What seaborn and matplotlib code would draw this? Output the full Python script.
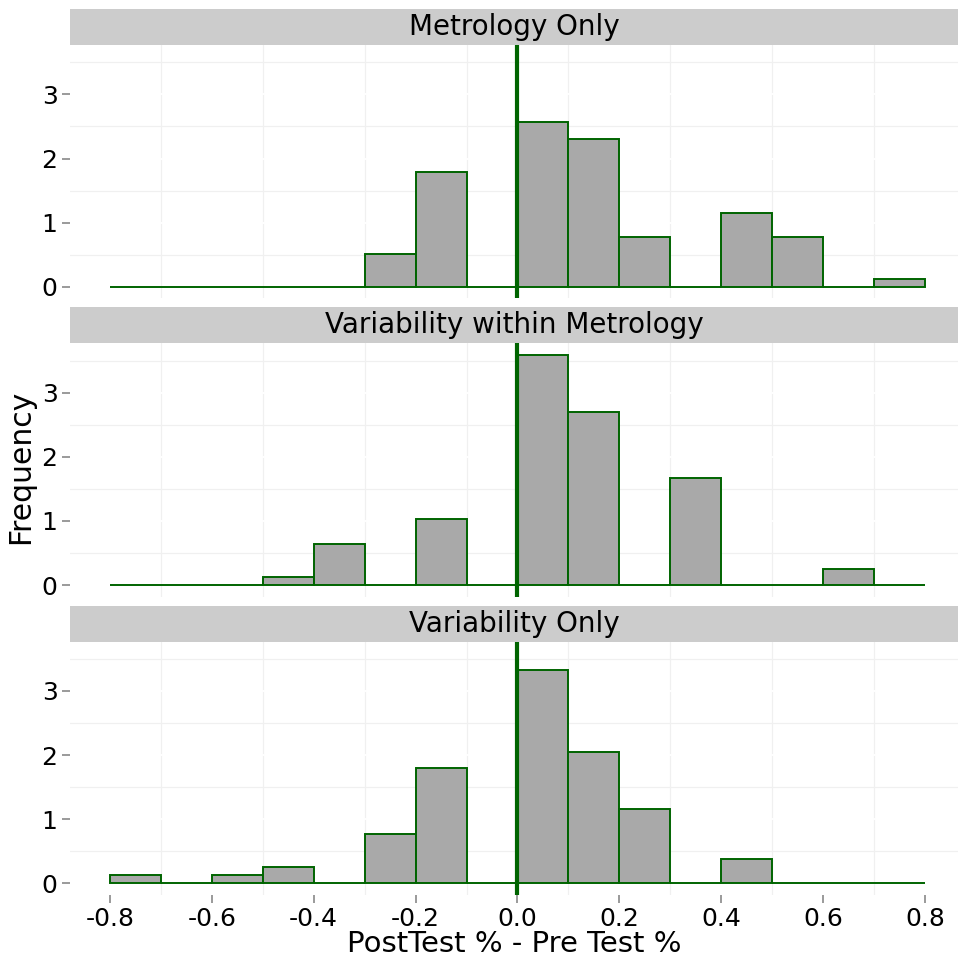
import numpy as np
import pandas as pd
import matplotlib
matplotlib.use("Agg")
import matplotlib.pyplot as plt
from matplotlib.patches import Rectangle
from matplotlib.ticker import MultipleLocator
import seaborn as sns

# bins de 0.1 entre -0.8 e 0.8, contagens (n=78 por painel)
bin_edges = [-0.8, -0.7, -0.6, -0.5, -0.4, -0.3, -0.2, -0.1, 0.0,
             0.1, 0.2, 0.3, 0.4, 0.5, 0.6, 0.7, 0.8]
paineis = ["Metrology Only", "Variability within Metrology", "Variability Only"]
contagem_metrology = [0, 0, 0, 0, 0, 4, 14, 0, 20, 18, 6, 0, 9, 6, 0, 1]
contagem_var_metrology = [0, 0, 0, 1, 5, 0, 8, 0, 28, 21, 0, 13, 0, 0, 2, 0]
contagem_variability = [1, 0, 1, 2, 0, 6, 14, 0, 26, 16, 9, 0, 3, 0, 0, 0]
x_ticks = [-0.8, -0.6, -0.4, -0.2, 0.0, 0.2, 0.4, 0.6, 0.8]
y_ticks = [0, 1, 2, 3]

meios = [(a + b) / 2 for a, b in zip(bin_edges[:-1], bin_edges[1:])]
linhas = []
for nome, cont in zip(paineis, [contagem_metrology, contagem_var_metrology, contagem_variability]):
    for m, c in zip(meios, cont):
        linhas.append({"painel": nome, "diff": m, "n": c})
dados = pd.DataFrame(linhas)

sns.set_style("white")
plt.rcParams['font.family'] = ['DejaVu Sans']
plt.rcParams['text.color'] = 'black'

g = sns.FacetGrid(dados, row="painel", row_order=paineis, sharex=True, sharey=True,
                  height=3, aspect=3, despine=False)
g.map_dataframe(sns.histplot, x="diff", weights="n", bins=bin_edges, stat="density",
                color="#A9A9A9", edgecolor="#006400", linewidth=1.4, alpha=1)

fig = g.figure
fig.set_size_inches(9.58, 9.67)
fig.subplots_adjust(left=0.0731, right=1.0, bottom=0.0745, top=0.9535, hspace=0.177)

for i, (ax, nome) in enumerate(zip(g.axes.flat, paineis)):
    ax.axvline(0, color="#006400", lw=3, zorder=5)
    ax.set_xlim(-0.8785, 0.865)
    ax.set_ylim(-0.18, 3.77)
    ax.set_title("")
    ax.set_xlabel("")
    ax.set_ylabel("")
    for s in ax.spines.values():
        s.set_visible(False)
    ax.xaxis.set_minor_locator(MultipleLocator(0.1))
    ax.yaxis.set_minor_locator(MultipleLocator(0.5))
    ax.set_axisbelow(True)
    ax.grid(which="minor", color="#F0F0F0", lw=0.9)
    ax.grid(which="major", color="white", lw=1.4)
    ax.set_yticks(y_ticks)
    ax.set_xticks(x_ticks)
    ax.tick_params(axis="y", which="major", left=True, length=6, width=1.1, color="#7F7F7F",
                   labelsize=18, pad=3, labelcolor="black")
    ax.tick_params(which="minor", length=0)
    if i < 2:
        ax.tick_params(axis="x", which="major", bottom=False, length=0, labelbottom=False)
    else:
        ax.tick_params(axis="x", which="major", bottom=True, length=6, width=1.1, color="#7F7F7F",
                       labelsize=18, pad=3, labelcolor="black")
        ax.set_xticklabels([f"{v:.1f}" for v in x_ticks])
        ax.set_xlabel("PostTest % - Pre Test %", fontsize=21, labelpad=-1, color="black")
    # faixa cinza do titulo
    ax.add_patch(Rectangle((0, 1.0), 1, 0.142, transform=ax.transAxes,
                           facecolor="#CCCCCC", edgecolor="none", clip_on=False))
    ax.text(0.5, 1.071, nome, transform=ax.transAxes, ha="center", va="center",
            fontsize=20, color="black")

fig.text(0.022, 0.517, "Frequency", rotation=90, ha="center", va="center",
         fontsize=21.5, color="black")

fig.savefig("out.png", dpi=100)
